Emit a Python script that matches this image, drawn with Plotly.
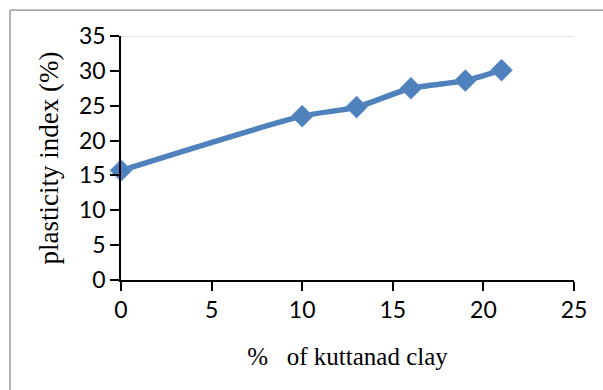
import plotly.graph_objects as go

clay_pct = [0, 10, 13, 16, 19, 21]
plasticity_index = [15.7, 23.5, 24.8, 27.5, 28.6, 30.1]
x_ticks = [0, 5, 10, 15, 20, 25]
y_ticks = [0, 5, 10, 15, 20, 25, 30, 35]

W, H = 603, 390
L, R, T, B = 121, 29, 36, 109.5
pw, ph = W - L - R, H - T - B

fig = go.Figure()
fig.add_trace(go.Scatter(
    x=clay_pct, y=plasticity_index, mode="lines+markers",
    line=dict(color="#4F81BD", width=5.5, shape="spline", smoothing=0.7),
    marker=dict(symbol="diamond", size=17, color="#4F81BD",
                line=dict(color="#6F9AD0", width=0.5)),
    showlegend=False, cliponaxis=False,
))

axis_font = dict(family="Lato, Carlito, sans-serif", size=23, color="#000000")
fig.update_xaxes(range=[0, 25], tickvals=x_ticks, ticks="outside", ticklen=9,
                 tickwidth=1.5, tickcolor="black", showline=True, linecolor="black",
                 linewidth=1.5, showgrid=False, zeroline=False, tickfont=axis_font,
                 title=dict(text="%\u00a0\u00a0 of kuttanad clay",
                            font=dict(family="Liberation Serif, Times New Roman, serif",
                                      size=25, color="black"), standoff=25))
fig.update_yaxes(range=[0, 35], tickvals=y_ticks, ticks="outside", ticklen=9,
                 tickwidth=1.5, tickcolor="black", showline=True, linecolor="black",
                 linewidth=1.5, showgrid=False, zeroline=False, tickfont=axis_font,
                 title=dict(text="plasticity index (%)",
                            font=dict(family="Liberation Serif, Times New Roman, serif",
                                      size=27, color="black"), standoff=13))

# top gridline
fig.add_shape(type="line", xref="paper", yref="y", x0=0, x1=1, y0=35, y1=35,
              line=dict(color="#D9D9D9", width=1.3), layer="below")
# outer chart border (left and top)
bx = (10 - L) / pw
by = (H - B - 10) / ph
fig.add_shape(type="line", xref="paper", yref="paper", x0=bx, x1=bx, y0=by,
              y1=(H - B - 400) / ph, line=dict(color="#8C8C8C", width=1.3))
fig.add_shape(type="line", xref="paper", yref="paper", x0=bx, x1=(620 - L) / pw,
              y0=by, y1=by, line=dict(color="#8C8C8C", width=1.3))

fig.update_layout(width=W, height=H, margin=dict(l=L, r=R, t=T, b=B),
                  paper_bgcolor="white", plot_bgcolor="white")
fig.write_html("out.html", config={"displayModeBar": False},
               post_script="document.body.style.margin='0';document.body.style.overflow='hidden';")
